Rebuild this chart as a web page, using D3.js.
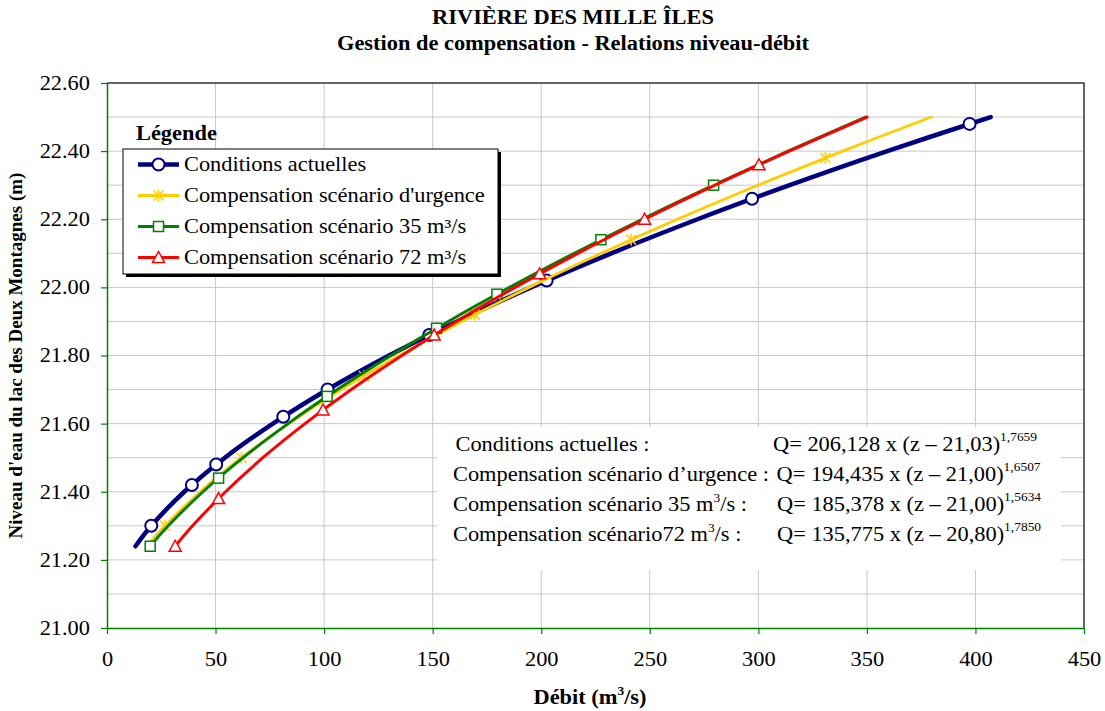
<!DOCTYPE html>
<html>
<head>
<meta charset="utf-8">
<script src="https://cdn.jsdelivr.net/npm/d3@7"></script>
<style>
  body { margin: 0; background: #ffffff; }
  svg text { font-family: "Liberation Serif", "Times New Roman", serif; fill: #000000; }
</style>
</head>
<body>
<div id="vis"></div>
<script>
// Rivière des Mille Îles - relations niveau-débit

// ---- data ----
// water levels (m) where each curve was sampled
const LEVELS = [21.24, 21.30, 21.40, 21.50, 21.60, 21.70, 21.80,
                21.90, 22.00, 22.10, 22.20, 22.30, 22.40, 22.50];

// flow (m3/s) at each level, one list per series
const Q_ACTUELLES = [13.1, 20.4, 35.6, 54.3, 76.4, 101.6, 129.9,
                     161.2, 195.3, 232.3, 272.0, 314.4, 359.4, 407.0];
const Q_URGENCE   = [18.4, 26.7, 42.9, 61.9, 83.7, 107.9, 134.5,
                     163.4, 194.4, 227.6, 262.7, 299.8, 338.8, 379.7];
const Q_35        = [19.9, 28.2, 44.2, 62.7, 83.4, 106.1, 130.8,
                     157.2, 185.4, 215.2, 246.5, 279.4, 313.7, 349.4];
const Q_72        = [31.4, 39.4, 54.6, 71.8, 91.2, 112.5, 135.8,
                     160.9, 188.0, 216.9, 247.6, 280.0, 314.2, 350.1];

// marker points (level, flow)
const MK_ACTUELLES_Z = [21.30, 21.42, 21.48, 21.62, 21.70, 21.86, 22.02, 22.26, 22.48];
const MK_ACTUELLES_Q = [20.4, 39.1, 50.3, 81.2, 101.6, 148.4, 202.5, 297.1, 397.3];
const MK_URGENCE_Z = [21.30, 21.50, 21.74, 21.92, 22.14, 22.38];
const MK_URGENCE_Q = [26.7, 61.9, 118.3, 169.4, 241.4, 330.9];
const MK_35_Z = [21.24, 21.44, 21.68, 21.88, 21.98, 22.14, 22.30];
const MK_35_Q = [19.9, 51.4, 101.4, 151.8, 179.6, 227.5, 279.4];
const MK_72_Z = [21.24, 21.38, 21.64, 21.86, 22.04, 22.20, 22.36];
const MK_72_Q = [31.4, 51.4, 99.5, 150.7, 199.3, 247.6, 300.3];

const SERIES_NAMES = ["Conditions actuelles",
                      "Compensation scénario d'urgence",
                      "Compensation scénario 35 m³/s",
                      "Compensation scénario 72 m³/s"];

// tick labels
const X_TICKS = [0, 50, 100, 150, 200, 250, 300, 350, 400, 450];
const Y_TICKS = [21.0, 21.2, 21.4, 21.6, 21.8, 22.0, 22.2, 22.4, 22.6];
const Y_GRID = [21.1, 21.2, 21.3, 21.4, 21.5, 21.6, 21.7, 21.8, 21.9,
                22.0, 22.1, 22.2, 22.3, 22.4, 22.5];

// equations shown in the text box
const EQ_LABELS = [["Conditions actuelles :"],
                   ["Compensation scénario d’urgence :"],
                   ["Compensation scénario 35 m", "3", "/s :"],
                   ["Compensation scénario72 m", "3", "/s :"]];
const EQ_COEF = ["206,128", "194,435", "185,378", "135,775"];
const EQ_Z0 = ["21,03", "21,00", "21,00", "20,80"];
const EQ_EXP = ["1,7659", "1,6507", "1,5634", "1,7850"];

// ---- frame ----
const FRAME_WIDTH = 1105;
const FRAME_HEIGHT = 711;
const MARGINS = {left: 107, right: 21, top: 83, bottom: 83};
const VIS_WIDTH = FRAME_WIDTH - MARGINS.left - MARGINS.right;
const VIS_HEIGHT = FRAME_HEIGHT - MARGINS.top - MARGINS.bottom;
const STRETCH = 1.12;   // the original text is a bit wider than Times

const FRAME = d3.select("#vis")
                .append("svg")
                  .attr("width", FRAME_WIDTH)
                  .attr("height", FRAME_HEIGHT);

// widen a horizontal text around its anchor point
function stretch(sel) {
  sel.each(function () {
    const t = d3.select(this);
    const x = +t.attr("x") || 0;
    const y = +t.attr("y") || 0;
    t.attr("transform", "translate(" + x + "," + y + ") scale(" + STRETCH + ",1) translate(" + (-x) + "," + (-y) + ")");
  });
}

const X_SCALE = d3.scaleLinear().domain([0, 450]).range([MARGINS.left, MARGINS.left + VIS_WIDTH]);
const Y_SCALE = d3.scaleLinear().domain([21.0, 22.6]).range([MARGINS.top + VIS_HEIGHT, MARGINS.top]);

// grid
FRAME.append("g").selectAll("line")
    .data(Y_GRID).enter().append("line")
      .attr("x1", X_SCALE(0)).attr("x2", X_SCALE(450))
      .attr("y1", (d) => Y_SCALE(d)).attr("y2", (d) => Y_SCALE(d))
      .attr("stroke", "#c8c8c8").attr("stroke-width", 1);

FRAME.append("g").selectAll("line")
    .data(X_TICKS.slice(1, -1)).enter().append("line")
      .attr("x1", (d) => X_SCALE(d)).attr("x2", (d) => X_SCALE(d))
      .attr("y1", Y_SCALE(21.0)).attr("y2", Y_SCALE(22.6))
      .attr("stroke", "#c8c8c8").attr("stroke-width", 1);

// top and right border of plot area
FRAME.append("path")
    .attr("d", "M" + X_SCALE(0) + "," + Y_SCALE(22.6) + "H" + X_SCALE(450) + "V" + Y_SCALE(21.0))
    .attr("fill", "none").attr("stroke", "#333333").attr("stroke-width", 1.5);

// axes
const xAxis = FRAME.append("g")
    .attr("transform", "translate(0," + Y_SCALE(21.0) + ")")
    .call(d3.axisBottom(X_SCALE).tickValues(X_TICKS).tickSize(6).tickSizeOuter(0).tickPadding(18));

const yAxis = FRAME.append("g")
    .attr("transform", "translate(" + X_SCALE(0) + ",0)")
    .call(d3.axisLeft(Y_SCALE).tickValues(Y_TICKS).tickFormat(d3.format(".2f"))
            .tickSize(6).tickSizeOuter(0).tickPadding(11));

[xAxis, yAxis].forEach((ax) => {
  ax.select(".domain").attr("stroke", "#008000").attr("stroke-width", 1.5);
  ax.selectAll(".tick line").attr("stroke", "#008000").attr("stroke-width", 1.2);
  ax.selectAll("text").attr("font-family", "Liberation Serif").attr("font-size", "20px").attr("fill", "#000")
    .call(stretch);
});

// equation box (white, covers grid)
FRAME.append("rect")
    .attr("x", 437).attr("y", 427).attr("width", 624).attr("height", 143)
    .attr("fill", "#ffffff");

const EQ_X_LABEL = [455.5, 453, 453, 453];
const EQ_X_Q = [773, 776.5, 777, 777];
EQ_LABELS.forEach((parts, i) => {
  const base = 451.5 + i * 30;
  const t = FRAME.append("text").attr("x", EQ_X_LABEL[i]).attr("y", base).attr("font-size", "20px");
  t.append("tspan").text(parts[0]);
  if (parts.length > 1) {
    t.append("tspan").attr("font-size", "12px").attr("dy", -9).text(parts[1]);
    t.append("tspan").attr("dy", 9).text(parts[2]);
  }
  t.call(stretch);
  const q = FRAME.append("text").attr("x", EQ_X_Q[i]).attr("y", base).attr("font-size", "20px");
  q.append("tspan").text("Q= " + EQ_COEF[i] + " x (z – " + EQ_Z0[i] + ")");
  q.append("tspan").attr("font-size", "12px").attr("dy", -10).text(EQ_EXP[i]);
  q.call(stretch);
});

// ---- series ----
const SERIES = [
  {q: Q_ACTUELLES, mz: MK_ACTUELLES_Z, mq: MK_ACTUELLES_Q, color: "#000080", width: 4.5, sym: "circle"},
  {q: Q_URGENCE, mz: MK_URGENCE_Z, mq: MK_URGENCE_Q, color: "#ffcc00", width: 2.8, sym: "star"},
  {q: Q_35, mz: MK_35_Z, mq: MK_35_Q, color: "#008000", width: 3, sym: "square"},
  {q: Q_72, mz: MK_72_Z, mq: MK_72_Q, color: "#ff0000", width: 3, sym: "triangle"}
];

const line = d3.line()
    .x((d) => X_SCALE(d[0]))
    .y((d) => Y_SCALE(d[1]))
    .curve(d3.curveCatmullRom);

// draws one marker at (x, y)
function drawMarker(g, sym, color, x, y) {
  if (sym === "circle") {
    g.append("circle").attr("cx", x).attr("cy", y).attr("r", 6)
      .attr("fill", "#fff").attr("stroke", color).attr("stroke-width", 2);
  } else if (sym === "square") {
    g.append("rect").attr("x", x - 5).attr("y", y - 5).attr("width", 10).attr("height", 10)
      .attr("fill", "#fff").attr("stroke", color).attr("stroke-width", 1.5);
  } else if (sym === "triangle") {
    g.append("path").attr("d", "M" + x + "," + (y - 6) + "L" + (x + 6) + "," + (y + 5) + "L" + (x - 6) + "," + (y + 5) + "Z")
      .attr("fill", "#fff").attr("stroke", color).attr("stroke-width", 1.5);
  } else {
    g.append("path")
      .attr("d", "M" + (x - 5) + "," + (y - 5) + "L" + (x + 5) + "," + (y + 5) +
                 "M" + (x + 5) + "," + (y - 5) + "L" + (x - 5) + "," + (y + 5) +
                 "M" + x + "," + (y - 6) + "L" + x + "," + (y + 6))
      .attr("stroke", color).attr("stroke-width", 1.5);
  }
}

SERIES.forEach((s) => {
  const g = FRAME.append("g");
  g.append("path")
    .datum(s.q.map((q, i) => [q, LEVELS[i]]))
    .attr("d", line)
    .attr("fill", "none")
    .attr("stroke", s.color)
    .attr("stroke-width", s.width)
    .attr("stroke-linecap", "round");
  s.mq.forEach((q, i) => drawMarker(g, s.sym, s.color, X_SCALE(q), Y_SCALE(s.mz[i])));
});

// ---- legend ----
FRAME.append("text").attr("x", 136).attr("y", 140)
    .attr("font-size", "20px").attr("font-weight", "bold").text("Légende").call(stretch);

FRAME.append("rect").attr("x", 126).attr("y", 152).attr("width", 375).attr("height", 125).attr("fill", "#000");
FRAME.append("rect").attr("x", 123).attr("y", 149).attr("width", 375).attr("height", 125)
    .attr("fill", "#fff").attr("stroke", "#000").attr("stroke-width", 1);

SERIES.forEach((s, i) => {
  const cy = 164.5 + i * 31;
  FRAME.append("line").attr("x1", 138).attr("x2", 179).attr("y1", cy).attr("y2", cy)
    .attr("stroke", s.color).attr("stroke-width", s.width);
  drawMarker(FRAME, s.sym, s.color, 158.5, cy);
  FRAME.append("text").attr("x", 184).attr("y", cy + 7)
    .attr("font-size", "20px").text(SERIES_NAMES[i]).call(stretch);
});

// ---- titles ----
FRAME.append("text").attr("x", 573).attr("y", 24).attr("text-anchor", "middle")
    .attr("font-size", "20px").attr("font-weight", "bold").text("RIVIÈRE DES MILLE ÎLES").call(stretch);
FRAME.append("text").attr("x", 573).attr("y", 50).attr("text-anchor", "middle")
    .attr("font-size", "20px").attr("font-weight", "bold")
    .text("Gestion de compensation - Relations niveau-débit").call(stretch);

const xTitle = FRAME.append("text").attr("x", 590).attr("y", 704).attr("text-anchor", "middle")
    .attr("font-size", "20px").attr("font-weight", "bold");
xTitle.append("tspan").text("Débit (m");
xTitle.append("tspan").attr("font-size", "12px").attr("dy", -9).text("3");
xTitle.append("tspan").attr("dy", 9).text("/s)");
xTitle.call(stretch);

FRAME.append("text")
    .attr("transform", "translate(22," + (MARGINS.top + VIS_HEIGHT / 2) + ") rotate(-90)")
    .attr("text-anchor", "middle")
    .attr("font-size", "19px").attr("font-weight", "bold")
    .text("Niveau d'eau du lac des Deux Montagnes (m)");
</script>
</body>
</html>
